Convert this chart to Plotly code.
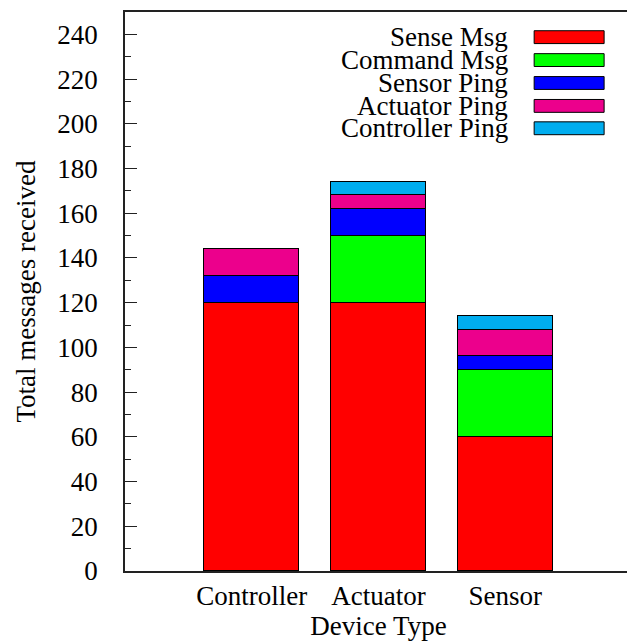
import plotly.graph_objects as go

categories = ["Controller", "Actuator", "Sensor"]
positions = [1, 2, 3]
series_names = ["Sense Msg", "Command Msg", "Sensor Ping", "Actuator Ping", "Controller Ping"]
sense_msg = [120, 120, 60]
command_msg = [None, 30, 30]
sensor_ping = [12, 12, 6]
actuator_ping = [12, 6, 12]
controller_ping = [None, 6, 6]
colors = ["#ff0000", "#00ff00", "#0000ff", "#ec008c", "#00adef"]
y_ticks = list(range(0, 241, 20))

series_values = [sense_msg, command_msg, sensor_ping, actuator_ping, controller_ping]
FONT = "'Liberation Serif', 'DejaVu Serif'"

fig = go.Figure()
for name, vals, col in zip(series_names, series_values, colors):
    fig.add_trace(go.Bar(
        x=positions, y=vals, name=name, width=0.75,
        marker=dict(color=col, line=dict(color="black", width=1)),
        showlegend=False,
    ))

# manual gnuplot-style legend (text right-aligned, sample box on right)
legend_y = [0.955, 0.914, 0.873, 0.832, 0.792]
for name, col, yy in zip(series_names, colors, legend_y):
    fig.add_annotation(x=0.759, y=yy, xref="paper", yref="paper", text=name,
                       showarrow=False, xanchor="right", yanchor="middle",
                       font=dict(family=FONT, size=27, color="black"))
    fig.add_shape(type="rect", xref="paper", yref="paper",
                  x0=0.807, x1=0.945, y0=yy - 0.0115, y1=yy + 0.0115,
                  fillcolor=col, line=dict(color="black", width=1))

fig.update_layout(
    barmode="stack",
    width=627, height=635,
    margin=dict(l=117, r=3, t=4, b=72, autoexpand=False),
    paper_bgcolor="white", plot_bgcolor="white",
    font=dict(family=FONT, size=27, color="black"),
    bargap=0,
)
fig.update_xaxes(
    range=[0, 4], tickmode="array", tickvals=positions, ticktext=categories,
    showline=True, linecolor="#222", linewidth=1.5, mirror=True,
    ticks="", showgrid=False, zeroline=False,
    title=dict(text="Device Type", standoff=4, font=dict(size=27, family=FONT)),
    tickfont=dict(size=27, family=FONT),
)
fig.update_yaxes(
    range=[0, 250], tickmode="array", tickvals=y_ticks,
    showline=True, linecolor="#222", linewidth=1.5, mirror=True,
    ticks="inside", ticklen=12, tickcolor="#222", tickwidth=1,
    minor=dict(ticks="inside", ticklen=6, dtick=10, tickcolor="#222", tickwidth=1, showgrid=False),
    showgrid=False, zeroline=False,
    ticklabelstandoff=20,
    title=dict(text="Total messages received", standoff=14, font=dict(size=27, family=FONT)),
    tickfont=dict(size=27, family=FONT),
)

fig.write_html("out.html")
